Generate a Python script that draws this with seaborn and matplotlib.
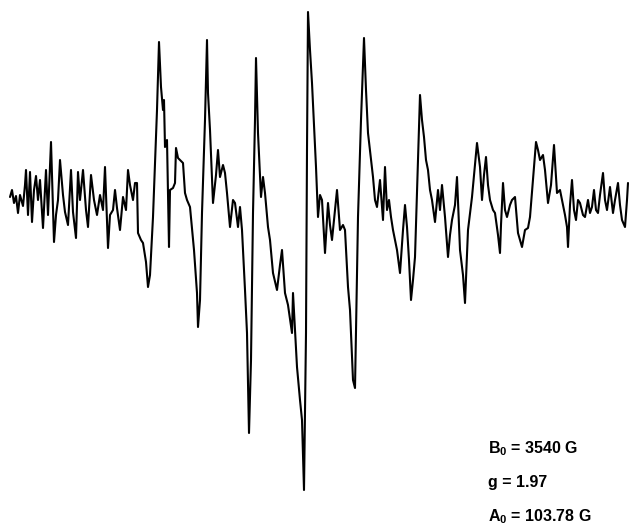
import numpy as np
import matplotlib
matplotlib.use("Agg")
from matplotlib import pyplot as plt
import seaborn as sns

# trace, in picture pixels (x = field, y = signal, y grows downwards)
field_px = [
    10, 12, 14, 16, 18, 20, 23, 25, 26, 28,
    30, 32, 34, 36, 38, 40, 43, 46, 48, 51,
    53, 54, 56, 58, 60, 63, 65, 68, 71, 73,
    76, 78, 80, 83, 86, 88, 91, 94, 97, 100,
    103, 105, 108, 110, 113, 115, 117, 120, 123, 126,
    128, 130, 133, 135,
    137, 138, 141, 143, 146, 148, 150, 153, 157, 159,
    161, 163, 164, 165, 167, 169, 170, 173, 175, 176,
    178, 180, 183, 185, 187, 190, 194, 197, 198, 200,
    202, 205, 207, 208, 210, 212, 213, 216, 218, 220,
    223, 225, 227, 230, 233, 235, 238, 240, 242, 245,
    247, 249, 251, 253, 255, 256, 258, 261, 263, 265,
    268, 270, 273, 277, 280, 282, 285, 288, 292, 293,
    297, 300, 302, 304, 306, 307, 308, 310, 312, 316,
    318, 320, 322, 325, 328, 330, 332, 335, 337, 340,
    343, 345, 348, 350, 353, 355, 358, 361, 364, 366,
    368, 373, 375, 377, 380, 383, 385, 387, 389, 391,
    393, 397, 400, 403, 405, 407, 409, 411, 413, 415,
    418, 420, 422, 424, 426, 428, 430, 432, 435, 438,
    440, 442, 445, 448, 450, 452, 455, 457, 460, 463,
    465, 468, 472, 475, 477, 480, 482, 484, 486, 488,
    490, 493, 495, 498, 500, 501, 503, 505, 507, 510,
    512, 515, 518, 520, 522, 525, 528, 530, 533, 536,
    538, 540, 543, 545, 548, 551, 554, 557, 560, 562,
    565, 567, 568, 570, 572, 574, 576, 578, 580, 583,
    585, 588, 590, 592, 594, 596, 598, 600, 603, 605,
    607, 610, 613, 615, 618, 620, 622, 625, 627, 628,
]
signal_px = [
    197, 190, 203, 196, 213, 195, 206, 185, 170, 215,
    172, 222, 190, 176, 200, 180, 228, 170, 215, 142,
    208, 242, 215, 200, 160, 195, 212, 225, 170, 212,
    238, 172, 200, 170, 210, 227, 175, 200, 215, 195,
    210, 167, 248, 215, 210, 190, 208, 230, 197, 210,
    170, 185, 200, 183,
    183, 233, 240, 243, 262, 287, 275, 217, 110, 42,
    87, 110, 100, 147, 140, 247, 190, 188, 183, 148,
    158, 160, 163, 193, 200, 207, 250, 293, 327, 300,
    213, 120, 40, 93, 130, 180, 203, 175, 150, 177,
    165, 173, 193, 227, 200, 203, 227, 207, 230, 290,
    333, 433, 360, 213, 120, 58, 133, 197, 177, 193,
    227, 240, 273, 290, 265, 250, 293, 305, 333, 293,
    367, 400, 420, 490, 333, 150, 12, 50, 83, 167,
    217, 195, 200, 253, 203, 225, 240, 210, 190, 230,
    225, 230, 287, 310, 380, 388, 217, 120, 38, 90,
    133, 177, 200, 207, 180, 220, 167, 210, 200, 217,
    230, 250, 273, 230, 205, 227, 260, 300, 280, 257,
    160, 95, 120, 137, 160, 170, 190, 200, 222, 190,
    210, 185, 217, 257, 235, 220, 205, 177, 250, 275,
    303, 230, 197, 165, 143, 167, 200, 175, 157, 185,
    200, 210, 213, 235, 253, 225, 183, 210, 217, 205,
    200, 197, 233, 240, 247, 230, 228, 217, 180, 142,
    150, 160, 155, 170, 203, 185, 145, 193, 190, 200,
    215, 227, 247, 205, 180, 210, 220, 200, 203, 215,
    217, 200, 213, 207, 190, 210, 213, 195, 173, 200,
    210, 187, 213, 200, 183, 205, 220, 227, 200, 183,
]

labels = ["B$_0$ = 3540 G", "g = 1.97", "A$_0$ = 103.78 G"]
label_y = [453, 487, 521]

sns.set_style("white")
plt.rcParams["font.family"] = ["Liberation Sans", "DejaVu Sans"]
plt.rcParams["mathtext.fontset"] = "custom"
plt.rcParams["mathtext.rm"] = "Liberation Sans:bold"
plt.rcParams["mathtext.default"] = "rm"

fig = plt.figure(figsize=(6.29, 5.26), dpi=100)
ax = fig.add_axes([0, 0, 1, 1])

sns.lineplot(x=field_px, y=signal_px, ax=ax, color="black", lw=1.5,
             sort=False, estimator=None)

for txt, yy in zip(labels, label_y):
    ax.text(488, yy, txt, fontsize=11.5, fontweight="bold", color="black",
            va="baseline", ha="left")

ax.set_xlim(0, 629)
ax.set_ylim(526, 0)
ax.axis("off")

fig.savefig("out.png", dpi=100)
